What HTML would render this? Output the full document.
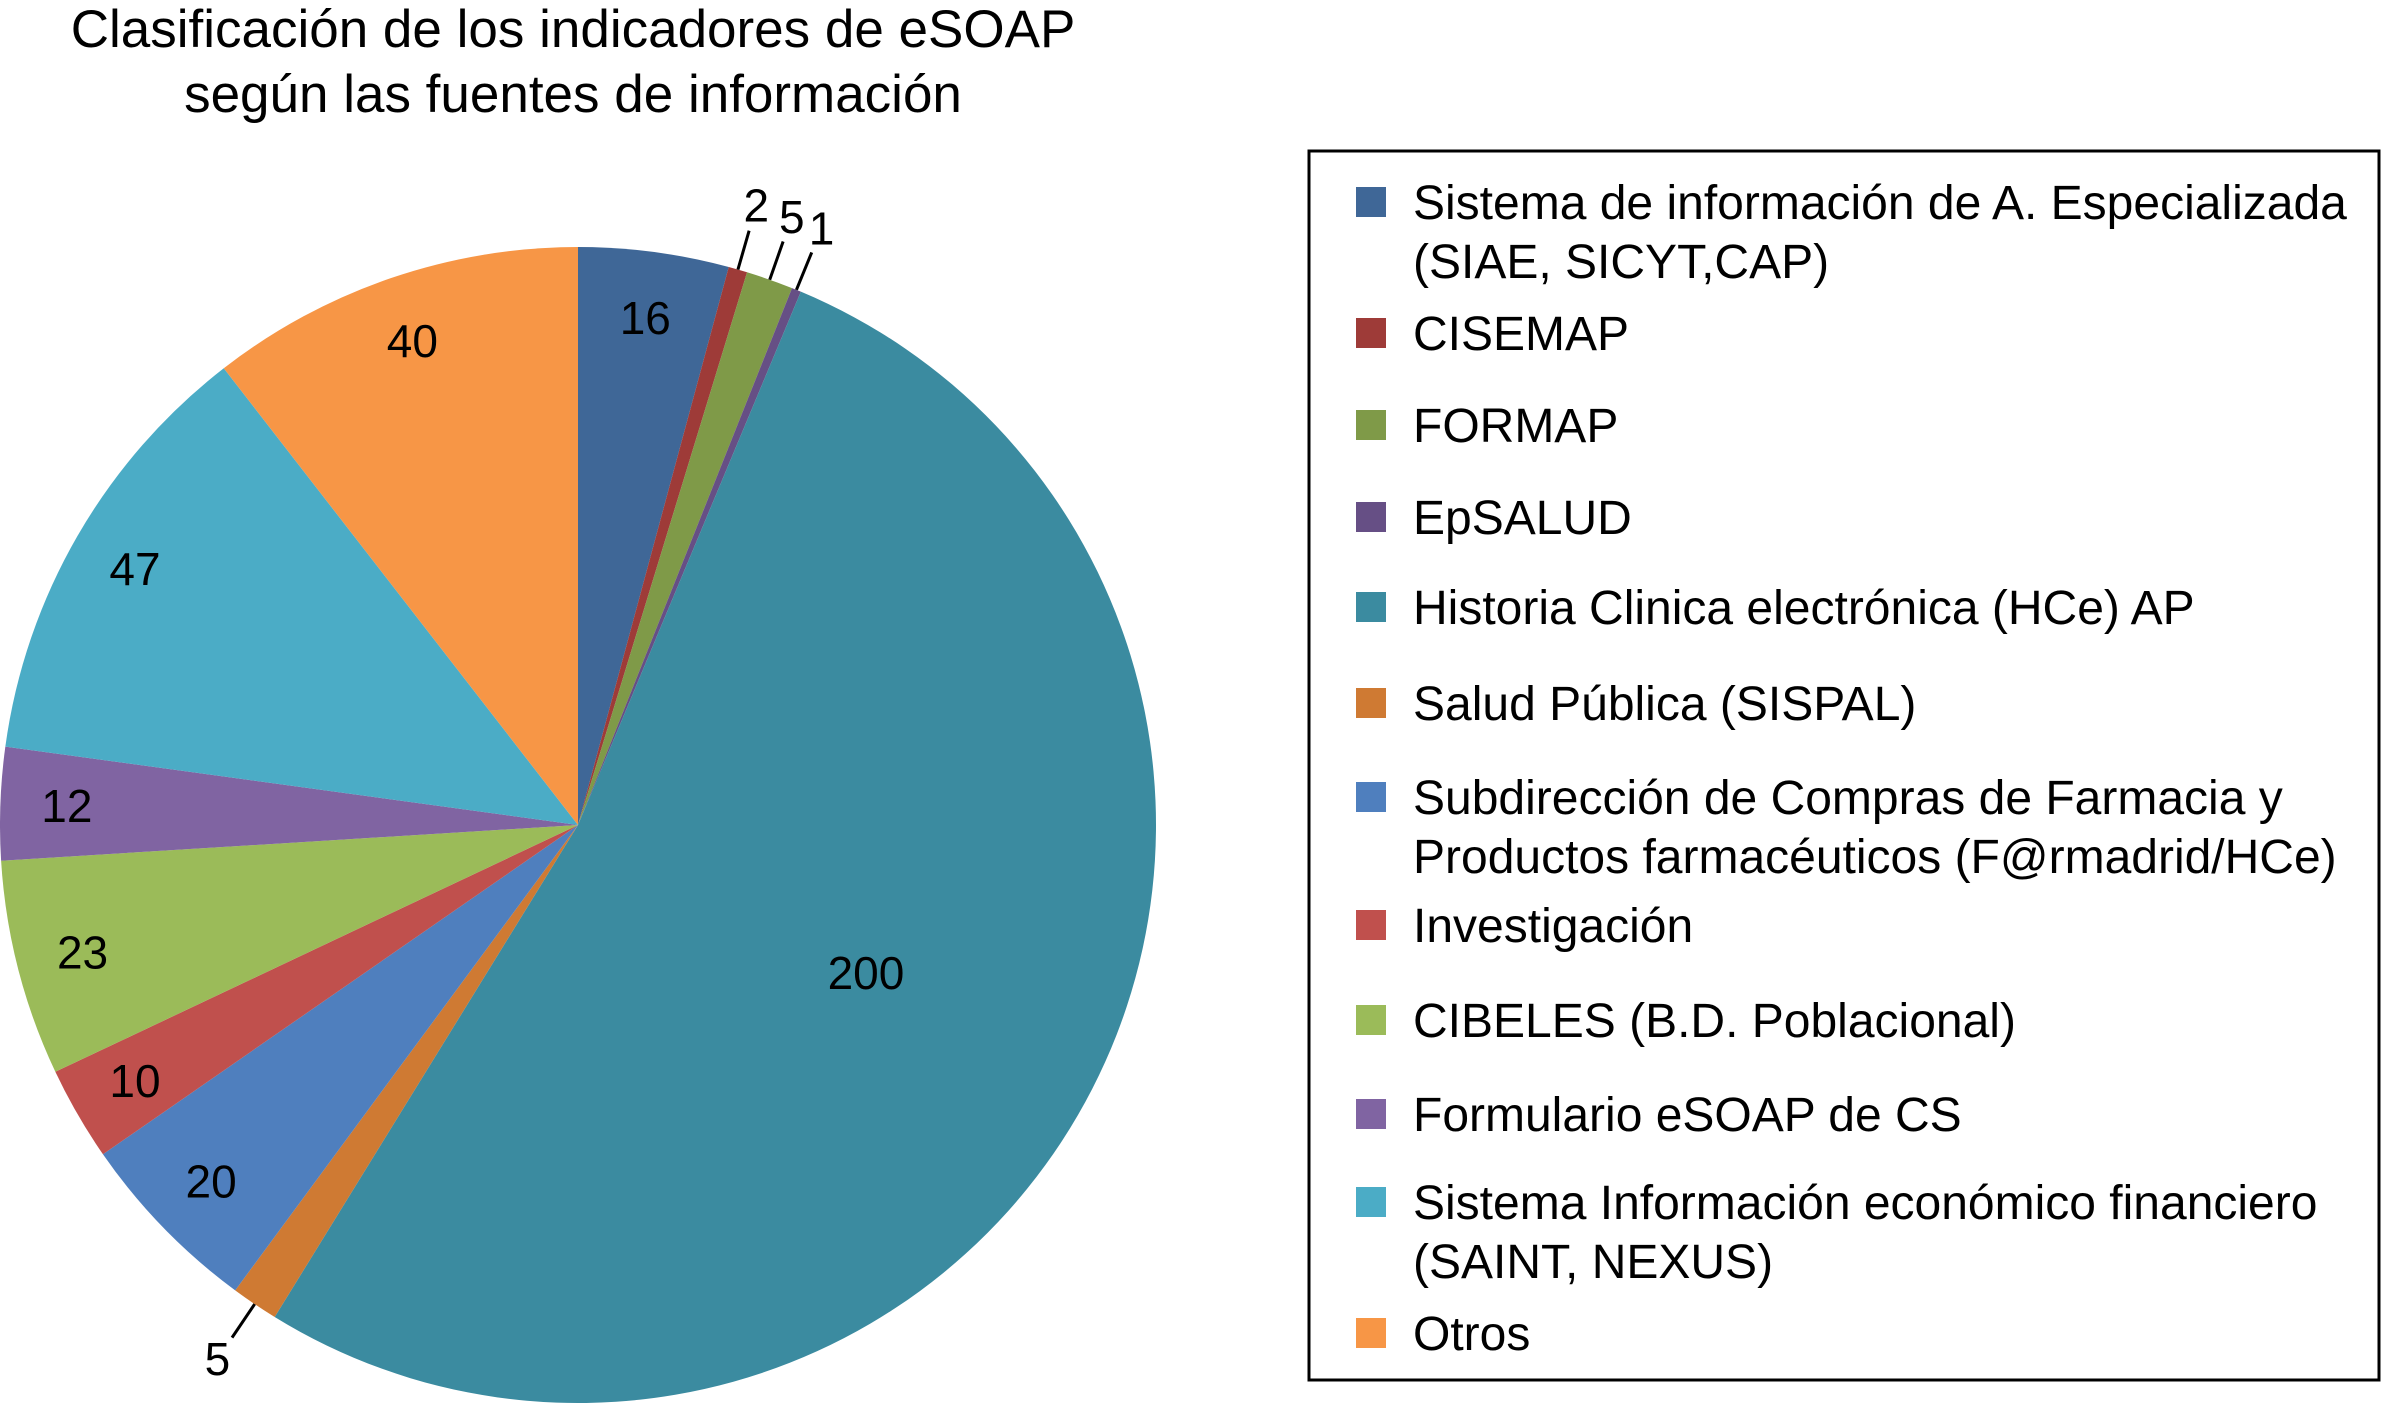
<!DOCTYPE html>
<html><head><meta charset="utf-8"><style>
html,body{margin:0;padding:0;background:#fff;}
body{width:2383px;height:1404px;overflow:hidden;font-family:"Liberation Sans",sans-serif;}
</style></head><body>
<svg id="chart" width="2383" height="1404" viewBox="0 0 2383 1404" xmlns="http://www.w3.org/2000/svg" font-family="Liberation Sans, sans-serif">
<text x="573" y="47" font-size="53" text-anchor="middle">Clasificación de los indicadores de eSOAP</text>
<text x="573" y="112" font-size="53" text-anchor="middle">según las fuentes de información</text>
<g id="slices"></g><g id="labels"></g>
<rect x="1309" y="151" width="1070" height="1229" fill="none" stroke="#000" stroke-width="3"/>
<g id="legend"></g>
</svg>
<script>
const categories=["Sistema de información de A. Especializada|(SIAE, SICYT,CAP)","CISEMAP","FORMAP","EpSALUD","Historia Clinica electrónica (HCe) AP","Salud Pública (SISPAL)","Subdirección de Compras de Farmacia y|Productos farmacéuticos (F@rmadrid/HCe)","Investigación","CIBELES (B.D. Poblacional)","Formulario eSOAP de CS","Sistema Información económico financiero|(SAINT, NEXUS)","Otros"];
const values=[16,2,5,1,200,5,20,10,23,12,47,40];
const colors=["#3f6797","#9e3b38","#7f9a48","#664f85","#3b8ba0","#cf7a33","#4f7fbe","#c0504d","#9bbb59","#8064a2","#4bacc6","#f79646"];
const legendY=[202,333,425,517,607,703,797,925,1020,1114,1202,1333];
const NS="http://www.w3.org/2000/svg";
const cx=578,cy=825,r=578;
const total=values.reduce((a,b)=>a+b,0);
const sg=document.getElementById('slices'),lg=document.getElementById('labels'),leg=document.getElementById('legend');
function pt(a,rr){return [cx+rr*Math.sin(a),cy-rr*Math.cos(a)];}
let acc=0;
values.forEach((v,i)=>{
 const a0=acc/total*2*Math.PI,a1=(acc+v)/total*2*Math.PI,am=(a0+a1)/2;acc+=v;
 const p0=pt(a0,r),p1=pt(a1,r);
 const p=document.createElementNS(NS,'path');
 p.setAttribute('d',`M${cx},${cy}L${p0[0]},${p0[1]}A${r},${r} 0 ${a1-a0>Math.PI?1:0} 1 ${p1[0]},${p1[1]}Z`);
 p.setAttribute('fill',colors[i]);
 
 
 sg.appendChild(p);
 const t=document.createElementNS(NS,'text');
 t.setAttribute('font-size','46');t.setAttribute('text-anchor','middle');
 
 
 let lp;
 if(v<=5){
  lp=pt(am,r*1.115);
  const l0=pt(am,r*1.0),l1=pt(am,r*1.07);
  const ln=document.createElementNS(NS,'line');
  ln.setAttribute('x1',l0[0]);ln.setAttribute('y1',l0[1]);ln.setAttribute('x2',l1[0]);ln.setAttribute('y2',l1[1]);
  ln.setAttribute('stroke','#000');ln.setAttribute('stroke-width','3');
  
  
  lg.appendChild(ln);
 } else if(v>100){lp=pt(am,r*0.56);} else {lp=pt(am,r*0.885);}
 t.setAttribute('x',lp[0]);t.setAttribute('y',lp[1]+16);
 t.textContent=v;lg.appendChild(t);
});
categories.forEach((c,i)=>{
 const y=legendY[i];
 const s=document.createElementNS(NS,'rect');
 s.setAttribute('x',1356);s.setAttribute('y',y-15);s.setAttribute('width',30);s.setAttribute('height',30);s.setAttribute('fill',colors[i]);
 
 
 leg.appendChild(s);
 c.split('|').forEach((line,j)=>{
  const t=document.createElementNS(NS,'text');
  t.setAttribute('x',1413);t.setAttribute('y',y+17+j*59);t.setAttribute('font-size','48');
  
  
  t.textContent=line;leg.appendChild(t);
 });
});
</script>
</body></html>
